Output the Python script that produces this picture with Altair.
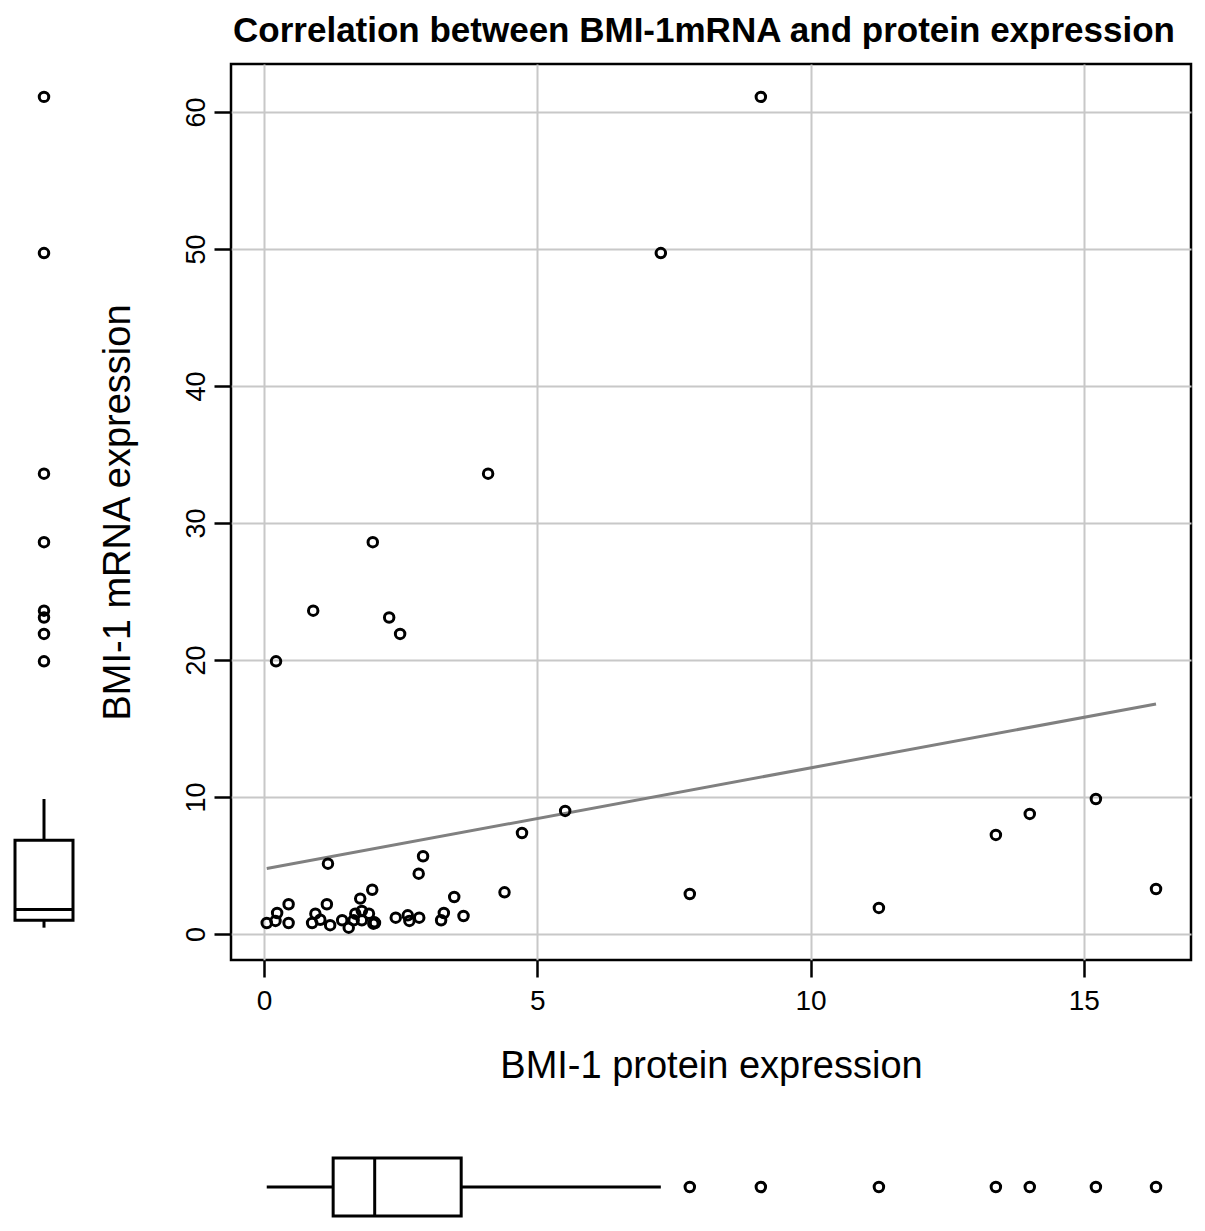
import altair as alt
import pandas as pd

# BMI-1 protein expression (x) and mRNA expression (y)
protein = [
    0.05, 0.21, 0.24, 0.45, 0.45, 1.17, 0.88, 0.94, 1.03, 1.15,
    1.21, 1.43, 1.55, 1.64, 1.67, 1.76, 1.79, 1.79, 1.92, 1.98,
    2.03, 2.00, 2.02, 2.41, 2.63, 2.66, 2.84, 2.83, 2.91, 3.24,
    3.29, 3.48, 3.65, 4.40, 4.72, 0.22, 0.90, 1.99, 2.29, 2.49,
    4.10, 5.51, 7.26, 7.79, 9.09, 11.25, 13.39, 14.01, 15.22, 16.32,
]
mrna = [
    0.80, 0.95, 1.53, 2.17, 0.80, 5.13, 0.80, 1.48, 1.04, 2.17,
    0.64, 1.00, 0.46, 1.00, 1.48, 2.58, 1.68, 1.00, 1.48, 3.23,
    0.80, 0.75, 0.85, 1.19, 1.36, 0.95, 1.19, 4.40, 5.67, 1.00,
    1.53, 2.70, 1.31, 3.04, 7.37, 19.9, 23.6, 28.6, 23.1, 21.9,
    33.6, 8.98, 49.7, 2.92, 61.1, 1.90, 7.23, 8.76, 9.85, 3.28,
]
x_ticks = [0, 5, 10, 15]
y_ticks = [0, 10, 20, 30, 40, 50, 60]

df = pd.DataFrame({"protein": protein, "mrna": mrna})

FONT = "Liberation Sans"
x_scale = alt.Scale(domain=[-0.604, 16.96], nice=False, zero=False)
y_scale = alt.Scale(domain=[-1.9, 63.5], nice=False, zero=False)


def box_style(extent):
    return dict(
        extent=extent,
        size=58,
        ticks=False,
        box={"fill": "white", "stroke": "black", "strokeWidth": 3, "opacity": 1},
        median={"color": "black", "thickness": 3, "opacity": 1},
        rule={"color": "black", "strokeWidth": 3, "opacity": 1},
        outliers={"shape": "circle", "filled": False, "color": "black",
                  "strokeWidth": 3, "size": 90, "opacity": 1},
    )


points = alt.Chart(df).mark_point(
    shape="circle", filled=False, color="black", strokeWidth=3, size=90, opacity=1
).encode(
    x=alt.X("protein:Q", scale=x_scale, title="BMI-1 protein expression",
            axis=alt.Axis(values=x_ticks, tickSize=17, tickWidth=2.5, tickColor="black",
                          domain=False, gridColor="#c8c8c8", gridWidth=2,
                          labelFont=FONT, labelFontSize=28, labelColor="black",
                          labelPadding=10, titleFont=FONT, titleFontSize=38,
                          titleFontWeight="normal", titleColor="black", titlePadding=32)),
    y=alt.Y("mrna:Q", scale=y_scale, title="BMI-1 mRNA expression",
            axis=alt.Axis(values=y_ticks, tickSize=17, tickWidth=2.5, tickColor="black",
                          domain=False, gridColor="#c8c8c8", gridWidth=2,
                          labelFont=FONT, labelFontSize=27, labelColor="black",
                          labelAngle=270, labelAlign="center", labelBaseline="alphabetic",
                          labelPadding=10, titleFont=FONT, titleFontSize=38,
                          titleFontWeight="normal", titleColor="black", titlePadding=45)),
)

fit = alt.Chart(df).transform_regression("protein", "mrna").mark_line(
    color="#808080", strokeWidth=3
).encode(x=alt.X("protein:Q", scale=x_scale), y=alt.Y("mrna:Q", scale=y_scale))

scatter = alt.layer(fit, points).properties(
    width=960,
    height=896,
    view=alt.ViewBackground(stroke="black", strokeWidth=2.5),
    title=alt.TitleParams(
        "Correlation between BMI-1mRNA and protein expression",
        font=FONT, fontSize=35, fontWeight="bold", color="black",
        anchor="middle", offset=15, dx=-7,
    ),
)

left_box = alt.Chart(df).mark_boxplot(**box_style(1.5)).encode(
    y=alt.Y("mrna:Q", scale=y_scale, axis=None),
).properties(width=58, height=896)

bottom_box = alt.Chart(df).mark_boxplot(**box_style(1.6)).encode(
    x=alt.X("protein:Q", scale=x_scale, axis=None),
).properties(width=960, height=58)

blank = alt.Chart(df).mark_text(text="").encode(
    x=alt.value(29), y=alt.value(29)
).properties(width=58, height=58)

chart = alt.concat(
    left_box, scatter, blank, bottom_box,
    columns=2, bounds="flush", spacing={"row": 198, "column": 158},
).resolve_scale(x="independent", y="independent").properties(
    padding={"left": 5, "top": 4, "right": 4, "bottom": 0}
).configure_view(stroke="transparent")

chart.save("out.html", embed_options={"renderer": "svg", "actions": False})
